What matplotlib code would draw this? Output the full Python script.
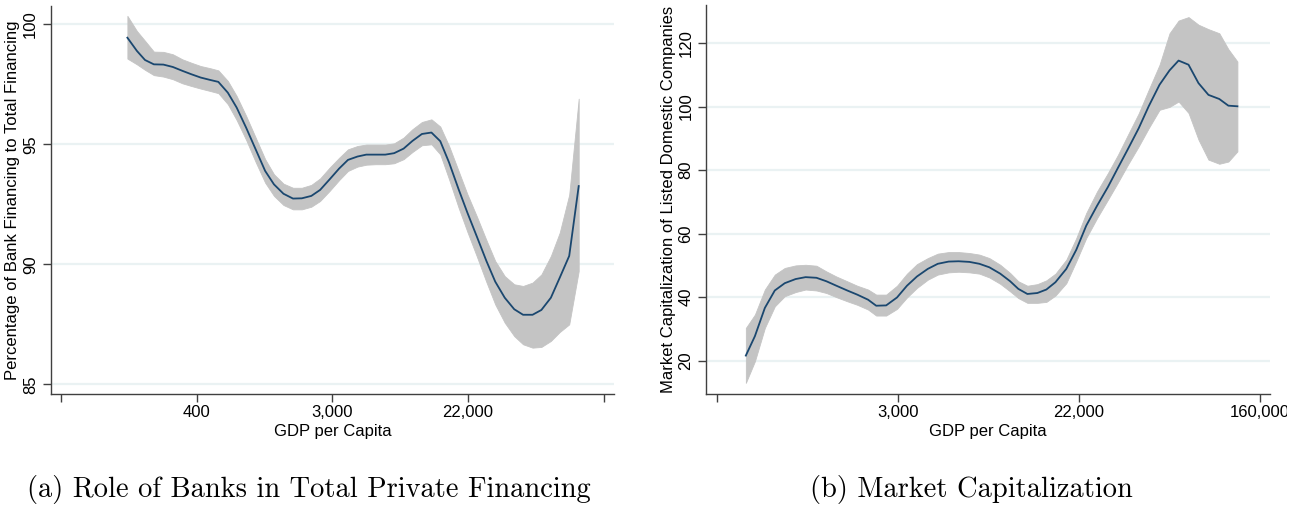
#!/usr/bin/env python3
"""
Lowess-style fits of financial structure against (log) GDP per capita.
Two panels: bank share of private financing, and stock market capitalization.
"""
import matplotlib.pyplot as plt
from matplotlib.patches import Rectangle

# ----------------------- data (x = ln GDP per capita) -----------------------
bank_lngdp = [4.98, 5.12, 5.24, 5.37, 5.51, 5.65, 5.79, 5.92, 6.06, 6.20,
              6.32, 6.46, 6.59, 6.73, 6.87, 7.01, 7.14, 7.28, 7.42, 7.55,
              7.69, 7.82, 7.96, 8.10, 8.23, 8.37, 8.50, 8.64, 8.78, 8.91,
              9.05, 9.18, 9.32, 9.46, 9.59, 9.72, 9.86, 9.99, 10.13, 10.27,
              10.40, 10.54, 10.68, 10.81, 10.95, 11.08, 11.22, 11.35, 11.49, 11.63]
bank_fit = [99.44, 98.89, 98.51, 98.33, 98.32, 98.22, 98.06, 97.92, 97.78, 97.68,
            97.60, 97.15, 96.53, 95.69, 94.79, 93.89, 93.33, 92.94, 92.74, 92.75,
            92.85, 93.10, 93.54, 93.99, 94.35, 94.49, 94.57, 94.57, 94.57, 94.63,
            94.82, 95.14, 95.43, 95.49, 95.13, 94.24, 93.13, 92.15, 91.15, 90.14,
            89.28, 88.61, 88.13, 87.90, 87.90, 88.10, 88.61, 89.44, 90.35, 93.26]
bank_hi = [100.35, 99.72, 99.31, 98.86, 98.85, 98.75, 98.54, 98.40, 98.26, 98.17,
           98.08, 97.64, 97.01, 96.18, 95.28, 94.38, 93.75, 93.36, 93.19, 93.19,
           93.31, 93.58, 94.03, 94.44, 94.79, 94.93, 94.99, 94.99, 94.99, 95.04,
           95.28, 95.63, 95.93, 96.04, 95.74, 94.93, 93.89, 92.92, 91.99, 91.01,
           90.14, 89.51, 89.17, 89.10, 89.24, 89.58, 90.35, 91.32, 92.90, 96.90]
bank_lo = [98.57, 98.33, 98.10, 97.88, 97.82, 97.71, 97.54, 97.43, 97.32, 97.22,
           97.13, 96.67, 96.01, 95.18, 94.26, 93.40, 92.85, 92.47, 92.29, 92.29,
           92.40, 92.64, 93.06, 93.51, 93.89, 94.07, 94.15, 94.17, 94.17, 94.21,
           94.38, 94.68, 94.96, 95.00, 94.58, 93.54, 92.36, 91.35, 90.32, 89.26,
           88.33, 87.57, 87.01, 86.67, 86.53, 86.56, 86.81, 87.18, 87.50, 89.72]

mcap_lngdp = [6.32, 6.42, 6.53, 6.64, 6.75, 6.87, 6.98, 7.10, 7.21, 7.32,
              7.44, 7.55, 7.67, 7.76, 7.87, 7.99, 8.10, 8.21, 8.33, 8.44,
              8.56, 8.67, 8.79, 8.90, 9.01, 9.13, 9.24, 9.33, 9.43, 9.54,
              9.64, 9.74, 9.86, 9.97, 10.08, 10.20, 10.32, 10.43, 10.54, 10.66,
              10.77, 10.89, 11.00, 11.10, 11.21, 11.32, 11.43, 11.55, 11.65, 11.75]
mcap_fit = [21.6, 27.7, 36.6, 42.1, 44.4, 45.7, 46.3, 46.1, 45.0, 43.6,
            42.1, 40.8, 39.2, 37.3, 37.4, 39.9, 43.6, 46.5, 48.9, 50.5,
            51.2, 51.3, 51.1, 50.5, 49.4, 47.4, 45.0, 42.6, 41.0, 41.3,
            42.4, 44.7, 48.9, 54.9, 62.5, 68.8, 74.7, 80.7, 86.6, 93.2,
            100.1, 106.9, 111.4, 114.5, 113.2, 107.4, 103.7, 102.4, 100.3, 100.1]
mcap_hi = [30.3, 34.5, 42.4, 47.1, 49.2, 50.0, 50.2, 49.9, 48.1, 46.5,
           45.0, 43.6, 42.4, 40.8, 40.8, 43.6, 47.4, 50.4, 52.3, 53.7,
           54.2, 54.2, 53.9, 53.4, 52.3, 50.2, 47.6, 45.0, 43.6, 44.1,
           45.3, 47.4, 51.8, 58.6, 66.5, 73.3, 79.1, 84.8, 91.1, 97.9,
           105.3, 113.2, 123.1, 127.1, 128.2, 125.8, 124.4, 123.1, 118.1, 114.2]
mcap_lo = [13.0, 19.8, 30.3, 37.1, 40.3, 41.6, 42.4, 42.1, 41.3, 40.0,
           38.7, 37.6, 36.1, 34.2, 34.2, 36.3, 39.9, 42.9, 45.5, 47.1,
           47.8, 48.0, 47.8, 47.4, 46.2, 44.2, 41.8, 39.7, 38.2, 38.2,
           38.5, 40.5, 44.4, 51.3, 58.6, 64.9, 70.7, 76.1, 81.7, 87.5,
           93.2, 99.0, 99.9, 101.6, 98.0, 89.6, 83.3, 82.0, 82.7, 85.9]

bank_xticks = [4, 6, 8, 10, 12]
bank_xticklabels = ["", "400", "3,000", "22,000", ""]
mcap_xticks = [6, 8, 10, 12]
mcap_xticklabels = ["", "3,000", "22,000", "160,000"]
bank_yticks = [85, 90, 95, 100]
mcap_yticks = [20, 40, 60, 80, 100, 120]

LINE = "#1a476f"
BAND = "#c4c4c4"
GRID = "#eaf2f3"
AXIS = "#404040"
SANS = ["Liberation Sans", "DejaVu Sans"]
SERIF = ["cmr10", "DejaVu Serif"]
FS = 12


# ----------------------- drawing helpers -----------------------
def style_axes(ax):
    for side in ("top", "right"):
        ax.spines[side].set_visible(False)
    for side in ("left", "bottom"):
        ax.spines[side].set_color(AXIS)
        ax.spines[side].set_linewidth(1.0)
    ax.tick_params(axis="both", direction="out", length=6, width=1.0,
                   color=AXIS, labelsize=FS)
    ax.tick_params(axis="y", pad=3)
    ax.tick_params(axis="x", pad=2)
    ax.grid(axis="y", color=GRID, linewidth=1.6)
    ax.set_axisbelow(True)
    for lab in ax.get_yticklabels():
        lab.set_rotation(90)
        lab.set_va("center")
        lab.set_family(SANS)
    for lab in ax.get_xticklabels():
        lab.set_family(SANS)


def draw_fit(ax, x, fit, lo, hi):
    ax.fill_between(x, lo, hi, color=BAND, linewidth=0.6, edgecolor=BAND, zorder=2)
    ax.plot(x, fit, color=LINE, linewidth=1.3, zorder=3)


def setup_panel(ax, xticks, xlabels, yticks, xlim, ylim, ylabel):
    ax.set_xticks(xticks)
    ax.set_xticklabels(xlabels)
    ax.set_yticks(yticks)
    ax.set_yticklabels([str(v) for v in yticks])
    # limits after ticks, otherwise set_xticks widens the view
    ax.set_xlim(*xlim)
    ax.set_ylim(*ylim)
    ax.set_xlabel("GDP per Capita", family=SANS, fontsize=FS, labelpad=3)
    ax.set_ylabel(ylabel, family=SANS, fontsize=FS, labelpad=2)
    style_axes(ax)


def main():
    W, H = 1299, 516
    fig = plt.figure(figsize=(W / 100, H / 100), dpi=100)

    # panel (a)
    ax1 = fig.add_axes([50.7 / W, (H - 394) / H, 563.3 / W, 388 / H])
    draw_fit(ax1, bank_lngdp, bank_fit, bank_lo, bank_hi)
    setup_panel(ax1, bank_xticks, bank_xticklabels, bank_yticks,
                (3.85, 12.15), (84.6, 100.76),
                "Percentage of Bank Financing to Total Financing")

    # panel (b)
    ax2 = fig.add_axes([706 / W, (H - 394) / H, 564 / W, 389 / H])
    draw_fit(ax2, mcap_lngdp, mcap_fit, mcap_lo, mcap_hi)
    setup_panel(ax2, mcap_xticks, mcap_xticklabels, mcap_yticks,
                (5.88, 12.11), (9.5, 132),
                "Market Capitalization of Listed Domestic Companies")

    # subfigure image edge cuts off the last tick label
    fig.patches.append(Rectangle((1287 / W, 0), 1, 1, transform=fig.transFigure,
                                 facecolor="white", edgecolor="none", zorder=10))

    # captions
    fig.text(309 / W, (H - 490) / H, "(a) Role of Banks in Total Private Financing",
             family=SERIF, fontsize=20.5, ha="center", va="center")
    fig.text(971 / W, (H - 490) / H, "(b) Market Capitalization",
             family=SERIF, fontsize=20.5, ha="center", va="center")

    fig.savefig("out.png", dpi=100)
    plt.close(fig)


if __name__ == "__main__":
    main()
